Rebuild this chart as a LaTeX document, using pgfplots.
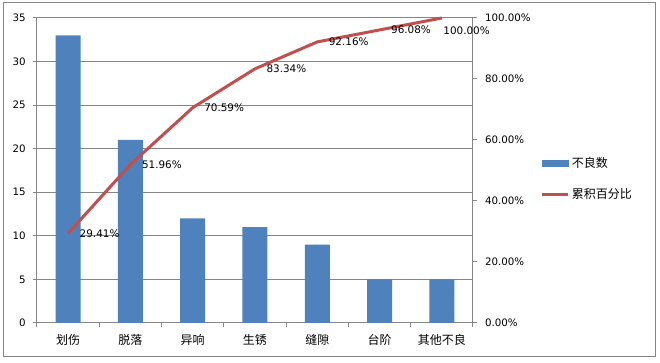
\documentclass[border=0pt]{standalone}
\usepackage{pgfplots}
\pgfplotsset{compat=1.18}
\usepackage{fontspec}
\setmainfont{DejaVu Sans}
\newfontfamily\cjk{Noto Sans CJK SC}
\definecolor{barblue}{HTML}{4F81BD}
\definecolor{linered}{HTML}{C0504D}
\definecolor{axgray}{HTML}{868686}
\begin{document}
\begin{tikzpicture}
\useasboundingbox (0,0) rectangle (495pt,272.25pt);
\draw[axgray, line width=0.75pt] (2.25pt,4.5pt) rectangle (491.25pt,270pt);
\begin{axis}[
  at={(27.75pt,30pt)}, anchor=south west, scale only axis,
  width=327pt, height=228.75pt,
  xmin=-0.5, xmax=6.5, ymin=0, ymax=35,
  axis x line*=bottom, axis y line*=left,
  axis line style={axgray, line width=0.75pt},
  tick align=outside,
  ytick={0,5,...,35},
  xtick={0,...,6},
  xticklabels={划伤,脱落,异响,生锈,缝隙,台阶,其他不良},
  xticklabel style={font=\cjk\fontsize{9}{10}\selectfont, yshift=-2pt},
  minor xtick={-0.5,0.5,...,6.5},
  major x tick style={draw=none},
  minor x tick style={axgray, line width=0.75pt},
  minor tick length=3pt,
  major tick length=3pt,
  ytick style={axgray, line width=0.75pt},
  ymajorgrids, grid style={axgray, line width=0.75pt},
  yticklabel style={font=\fontsize{7.7}{9}\selectfont, xshift=-2pt},
  /pgf/number format/assume math mode=true,
]
\addplot[ybar, bar width=18.75pt, fill=barblue, draw=none] coordinates {
 (0,33) (1,21) (2,12) (3,11) (4,9) (5,5) (6,5)};
\end{axis}
\begin{axis}[
  at={(27.75pt,30pt)}, anchor=south west, scale only axis,
  width=327pt, height=228.75pt,
  xmin=-0.5, xmax=6.5, ymin=0, ymax=100,
  hide x axis, axis y line*=right,
  axis line style={axgray, line width=0.75pt},
  tick align=outside, major tick length=3pt,
  ytick={0,20,...,100},
  ytick style={axgray, line width=0.75pt},
  yticklabel={\pgfmathprintnumber[fixed,fixed zerofill,precision=2]{\tick}\%},
  yticklabel style={font=\fontsize{7.7}{9}\selectfont, xshift=2.5pt},
  /pgf/number format/assume math mode=true,
  clip=false,
  legend style={at={(1.155,0.472)}, anchor=west, draw=none, fill=none,
    inner sep=0pt, row sep=11pt, font=\cjk\fontsize{9}{10}\selectfont,
    nodes={inner sep=1.5pt}},
  legend cell align=left,
]
\addlegendimage{legend image code/.code={\fill[barblue] (0pt,-2.25pt) rectangle (19.5pt,2.25pt);}}
\addlegendentry{不良数}
\addplot[linered, line width=2.25pt, mark=none,
  legend image code/.code={\draw[linered, line width=2.25pt] (0pt,0pt) -- (19.5pt,0pt);}]
  coordinates {(0,29.41) (1,51.96) (2,70.59) (3,83.34) (4,92.16) (5,96.08) (6,100)};
\addlegendentry{累积百分比}
\addplot[draw=none, mark=none, forget plot, point meta=y,
  nodes near coords={\pgfmathprintnumber[fixed,fixed zerofill,precision=2]{\pgfplotspointmeta}\%},
  nodes near coords style={anchor=west, xshift=8.5pt, inner sep=0pt, font=\fontsize{7.8}{9}\selectfont, text=black}]
  coordinates {(0,29.41) (1,51.96) (2,70.59) (3,83.34) (4,92.16) (5,96.08)};
\addplot[draw=none, mark=none, forget plot, point meta=y,
  nodes near coords={\pgfmathprintnumber[fixed,fixed zerofill,precision=2]{\pgfplotspointmeta}\%},
  nodes near coords style={anchor=west, xshift=1pt, yshift=-9.75pt, inner sep=0pt, font=\fontsize{7.8}{9}\selectfont, text=black}]
  coordinates {(6,100)};
\end{axis}
\end{tikzpicture}
\end{document}
